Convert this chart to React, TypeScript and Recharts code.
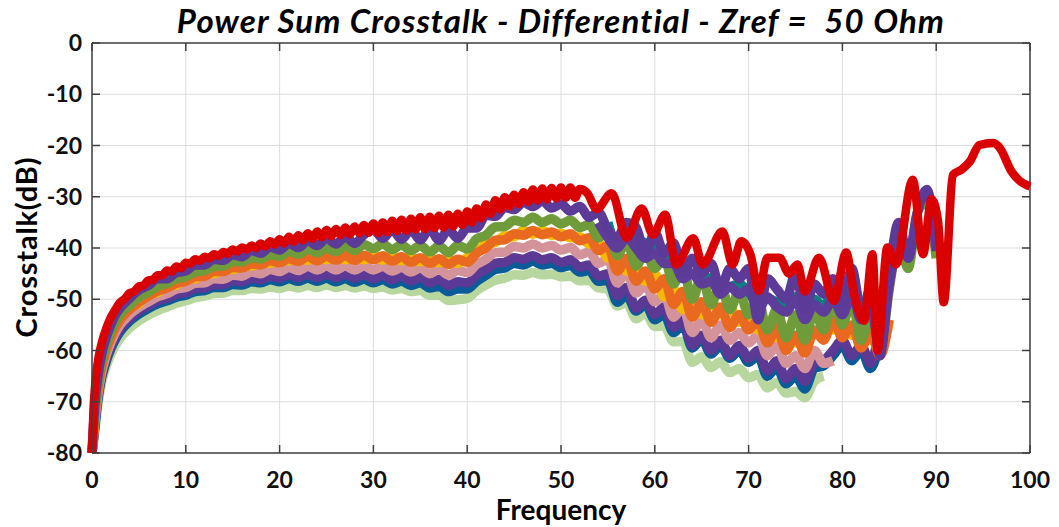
import { CartesianGrid, Line, LineChart, ReferenceLine, XAxis, YAxis } from 'recharts';

// frequency grid shared by the bundle of crosstalk traces
const F_GRID = [
  0, 0.3, 0.6, 1, 1.5, 2, 2.5, 3,
  4, 5, 6, 7, 8, 9,
  10, 11, 12, 13, 14, 15, 16, 17, 18, 19,
  20, 21, 22, 23, 24, 25, 26, 27, 28, 29,
  30, 31, 32, 33, 34, 35, 36, 37, 38, 39,
  40, 41, 42, 43, 44, 45, 46, 47, 48, 49,
  50, 51, 52, 53, 54, 55, 56, 57, 58, 59,
  60, 61, 62, 63, 64, 65, 66, 67, 68, 69,
  70, 71, 72, 73, 74, 75, 76, 77, 78, 79,
  80, 81, 82, 83, 84, 85, 86, 87, 88, 89,
  90,
];

const LIGHT_GREEN = [
  -80, -76, -71, -66.5, -63.2, -60.8, -59, -57.6,
  -55.6, -54.2, -53.1, -52.2, -51.5, -50.8,
  -50.3, -49.7, -49.4, -48.9, -48.8, -48.3, -48.3, -47.9, -48, -47.6,
  -47.9, -47.4, -47.8, -47.3, -47.7, -47.2, -47.7, -47.3, -47.8, -47.4,
  -47.9, -47.6, -48.2, -47.9, -48.5, -48.3, -49.2, -49.2, -50.2, -50.1,
  -49.8, -48.3, -47.2, -46.3, -45.9, -45.2, -45.3, -44.8, -45.2, -45.1,
  -45.6, -45.5, -46.4, -46.3, -47.8, -48, -51.3, -50.7, -53.8, -52.7,
  -55.3, -55.2, -58.3, -58.2, -62.3, -61.2, -63.3, -62.2, -64.3, -63.5,
  -65.3, -64.7, -67.3, -66.2, -68.3, -68, -69.2, -66, -65, null,
  null, null, null, null, null, null, null, null, null, null,
  null,
];

const DARK_BLUE = [
  -80, -75, -70, -65.5, -62.2, -59.7, -57.8, -56.3,
  -54.3, -52.9, -51.8, -50.9, -50.3, -49.6,
  -49.2, -48.5, -48.3, -47.7, -47.7, -47.1, -47.2, -46.6, -46.8, -46.2,
  -46.6, -46, -46.5, -45.9, -46.5, -45.9, -46.6, -46, -46.7, -46.1,
  -46.8, -46.2, -47, -46.5, -47.3, -46.8, -47.8, -47.5, -48.5, -48,
  -48, -46.5, -45.3, -44.2, -43.9, -43, -43.3, -42.6, -43.3, -43,
  -43.8, -43.4, -44.7, -44.4, -46.5, -46.3, -50.6, -49.2, -52.3, -51,
  -54, -53, -56.5, -55, -59.5, -57.8, -60.7, -59, -61.5, -60,
  -62.3, -61, -65, -63.3, -66.5, -65, -67.5, -63.5, -63, -61,
  -59, -62, -60, -63.5, -58, null, null, null, null, null,
  null,
];

const PURPLE_LOW = [
  -80, -74.5, -69.5, -65, -61.7, -59.2, -57.3, -55.8,
  -53.8, -52.3, -51.3, -50.3, -49.8, -49,
  -48.7, -47.9, -47.8, -47.1, -47.1, -46.4, -46.6, -45.9, -46.2, -45.5,
  -45.9, -45.2, -45.8, -45.1, -45.8, -45.1, -45.8, -45.1, -45.9, -45.2,
  -46, -45.3, -46.2, -45.5, -46.4, -45.7, -46.8, -46.1, -47.3, -46.6,
  -46.8, -45.2, -44.2, -43, -42.8, -41.9, -42.2, -41.5, -42.3, -41.9,
  -42.8, -42.3, -43.7, -43.3, -45.5, -45, -49.3, -47.7, -51.8, -50.2,
  -53, -51.5, -55.5, -54, -59, -57, -60, -58, -61, -59,
  -61.5, -60, -64, -62, -65.5, -63.5, -66, -62.5, -62, -60,
  -58, -61, -59, -62.5, -57, -56, null, null, null, null,
  null,
];

const PINK = [
  -80, -74, -69, -64.5, -61, -58.5, -56.5, -55,
  -53, -51.6, -50.5, -49.5, -48.9, -48,
  -47.7, -46.9, -46.8, -46, -46.1, -45.3, -45.5, -44.7, -45, -44.2,
  -44.6, -43.8, -44.4, -43.6, -44.3, -43.5, -44.3, -43.5, -44.3, -43.5,
  -44.3, -43.6, -44.5, -43.8, -44.7, -43.9, -45, -44.2, -45.3, -44.4,
  -44.8, -43.2, -42.2, -40.9, -40.8, -39.7, -40, -39.2, -40, -39.5,
  -40.4, -39.9, -41.3, -40.8, -43, -42.2, -46.8, -44.8, -48.8, -47.2,
  -50.5, -49, -53.5, -51.5, -56.5, -54, -57.5, -55, -58, -56.5,
  -58.5, -57, -61, -59, -62.5, -61, -63.5, -60, -62.5, -62,
  null, null, null, null, null, null, null, null, null, null,
  null,
];

const ORANGE = [
  -80, -73, -68, -63.5, -60, -57.5, -55.5, -54,
  -52, -50.6, -49.4, -48.4, -47.8, -46.9,
  -46.5, -45.6, -45.5, -44.6, -44.6, -43.8, -43.9, -43.1, -43.3, -42.5,
  -42.9, -42.1, -42.6, -41.7, -42.5, -41.6, -42.4, -41.5, -42.4, -41.4,
  -42.3, -41.5, -42.6, -41.7, -42.8, -41.9, -43, -42.1, -43.2, -42.2,
  -42.8, -41, -40, -38.5, -38.4, -37.2, -37.5, -36.6, -37.4, -36.9,
  -37.8, -37.2, -38.6, -38, -40.5, -39.5, -44.5, -42, -46.5, -44.5,
  -48, -46, -51, -48.5, -53.5, -50.5, -54.5, -51.5, -55.5, -53,
  -56, -54, -58.5, -55.5, -60, -57, -60.5, -56, -58, -54,
  -57.5, -55, -59.5, -56.5, -61, -54, null, null, null, null,
  null,
];

const YELLOW = [
  -80, -72.7, -67.7, -63.2, -59.8, -57.2, -55.2, -53.8,
  -51.6, -50.9, -48.9, -48.7, -47.2, -47.2,
  -45.9, -46, -44.9, -45, -44.1, -44.2, -43.4, -43.5, -42.8, -43,
  -42.2, -42.5, -41.9, -42.4, -41.7, -42.3, -41.6, -42.3, -41.6, -42.3,
  -41.5, -42.4, -41.6, -42.5, -41.7, -42.7, -41.9, -42.9, -42.1, -43,
  -41.8, -40.9, -39.2, -38.9, -37.6, -37.8, -36.6, -37.3, -36.6, -37.5,
  -37.1, -38, -37.8, -39.2, -39, -42, -41.5, -44.5, -43.5, -46.5,
  -45, -49.5, -48, -52, -49.5, -53, -50.5, -53, -51.5, -54.5,
  -53, -56, -54.5, -57.5, -56, -58.5, -56, -57, -55, -56,
  -55, -57, -56, -58, -57, -55.3, null, null, null, null,
  null,
];

const GREEN = [
  -80, -72, -67, -62.5, -59, -56.5, -54.5, -53,
  -51.2, -49.6, -48.6, -47.5, -46.9, -46,
  -45.6, -44.7, -44.4, -43.6, -43.5, -42.7, -42.7, -41.9, -42.1, -41.3,
  -41.6, -40.7, -41.2, -40.3, -40.9, -40, -40.7, -39.6, -40.5, -39.3,
  -40.1, -39.2, -40.3, -39.4, -40.5, -39.5, -40.8, -39.6, -40.9, -39.5,
  -40.2, -38.2, -37.5, -35.9, -35.8, -34.6, -35, -34, -35, -34.3,
  -35.3, -34.6, -36, -35.4, -38, -36.5, -41.5, -38.5, -43.5, -41,
  -44, -42, -47, -44, -50, -45.5, -51, -47, -52, -48.5,
  -53, -50, -56, -52, -57.5, -53, -58, -52, -56, -50,
  -55, -50, -58, -52, -60, -48, -38, -44, -33, -31,
  -42,
];

const TEAL = [
  null, null, null, null, null, null, null, null,
  null, null, null, null, null, null,
  null, null, null, null, null, null, null, null, null, null,
  null, null, null, null, null, null, null, null, null, null,
  null, null, null, null, null, null, null, null, null, null,
  null, null, null, null, null, null, null, null, null, null,
  null, null, null, null, null, -35, -39.5, -36.5, -38.5, -39,
  -40, -40.5, -42.5, -44, -45, -45.5, -46, -47, -47.5, -47,
  -48.5, -51, -50, -50.5, -52, -49.5, -53, -50, -51.5, -48.5,
  -51, -47, -53, -48, -59, -46, -38, null, null, null,
  null,
];

const PURPLE_MID = [
  null, null, null, null, null, null, null, null,
  null, null, null, null, null, null,
  null, null, null, null, null, null, null, null, null, null,
  null, null, null, null, null, null, null, null, null, null,
  null, null, null, null, null, null, null, null, null, null,
  null, null, null, null, null, null, null, null, null, null,
  null, null, null, null, -35, -38, -40, -38, -40, -42,
  -41, -43, -43, -46, -45, -47, -46.5, -49, -47.5, -49,
  -48, -52, -49.5, -51.5, -52.5, -50, -54, -51, -52.5, -50,
  -53, -49, -54, -51, -60, -47, -38, null, null, null,
  null,
];

const PURPLE = [
  -80, -70.5, -65.5, -61, -57.5, -55, -53, -51.7,
  -49.8, -48.2, -47.3, -46, -46, -44.8,
  -44.5, -43.3, -43.3, -42.2, -42.4, -41.3, -41.7, -40.5, -41, -39.8,
  -40.4, -39.1, -39.9, -38.6, -39.5, -38.1, -39.2, -37.8, -39.1, -37.4,
  -36.4, -38.1, -36.4, -38.3, -36.5, -38.4, -36.3, -38.5, -36.4, -38.1,
  -36.1, -36.1, -33.6, -33.8, -32.1, -32.5, -31.1, -31.9, -30.8, -32.2,
  -31.4, -32.8, -31.9, -34, -33, -36.5, -38, -35, -36, -41,
  -37, -41, -39, -45, -42, -45, -43, -48, -44, -46,
  -44, -54, -46, -48, -50, -45, -52, -47, -49, -46,
  -51, -44, -52, -49, -61, -45, -35, -42, -33, -28.6,
  -40.6,
];

// the top trace, read point by point (frequency, dB)
const RED = [
  [0, -80], [0.15, -72], [0.3, -67.5], [0.6, -62.5], [1, -58.8], [1.5, -55.8],
  [2, -53.6], [2.5, -52], [3, -50.6], [3.5, -49.9], [4, -48.8], [4.5, -48.5],
  [5, -47.5], [5.5, -47.3], [6, -46.3], [6.5, -46.2], [7, -45.3], [7.5, -45.3],
  [8, -44.4], [8.5, -44.6], [9, -43.6], [9.5, -43.9], [10, -42.9], [10.5, -43],
  [11, -42.2], [11.5, -42.5], [12, -41.7], [12.5, -42], [13, -41.2], [13.5, -41.5],
  [14, -40.8], [14.5, -41.1], [15, -40.3], [15.5, -40.7], [16, -39.9], [16.5, -40.3],
  [17, -39.5], [17.5, -40], [18, -39.1], [18.5, -39.7], [19, -38.7], [19.5, -39.3],
  [20, -38.3], [20.5, -39.1], [21, -37.8], [21.5, -38.8], [22, -37.5], [22.5, -38.5],
  [23, -37.1], [23.5, -38.2], [24, -36.8], [24.5, -37.9], [25, -36.5], [25.5, -37.7],
  [26, -36.3], [26.5, -37.5], [27, -36], [27.5, -37.3], [28, -35.8], [28.5, -37.1],
  [29, -35.5], [29.5, -37], [30, -35.2], [30.5, -37.1], [31, -35], [31.5, -36.9],
  [32, -34.7], [32.5, -36.7], [33, -34.5], [33.5, -36.6], [34, -34.3], [34.5, -36.4],
  [35, -34], [35.5, -36.3], [36, -33.9], [36.5, -36.1], [37, -33.7], [37.5, -36],
  [38, -33.5], [38.5, -35.8], [39, -33.3], [39.5, -35.5], [40, -32.9], [40.5, -35],
  [41, -32.3], [41.5, -34.2], [42, -31.5], [42.5, -33.3], [43, -30.7], [43.5, -32.5],
  [44, -30.1], [44.5, -31.9], [45, -29.6], [45.5, -31.4], [46, -29.1], [46.5, -31],
  [47, -28.6], [47.5, -30.7], [48, -28.4], [48.5, -30.5], [49, -28.3], [49.5, -30.3],
  [50, -28.2], [50.5, -30.2], [51, -28.2], [51.5, -30.2], [52, -28.5], [52.8, -29.3],
  [53.8, -32.4], [55.4, -29.3], [57, -38], [58.6, -32.3], [59.8, -37.4], [61.1, -33.5],
  [62.3, -43.2], [64.1, -38.1], [65.1, -43.2], [67.2, -36.8], [68.3, -43.2], [69.2, -38.7],
  [70.2, -41.3], [71.1, -48.4], [72, -41.9], [73.3, -41.9], [74.3, -45], [75.2, -43.2],
  [76, -48.5], [77.5, -41.9], [79.1, -50.3], [80.4, -40.9], [81.25, -49], [82.3, -54.2],
  [83.2, -41.2], [83.75, -60], [84.8, -39.9], [85.7, -43.2], [87.5, -26.7], [88.6, -41.2],
  [89.5, -30.5], [90.2, -34.8], [90.8, -50.6], [91.8, -25.7], [92.7, -24.7], [93.6, -23.1],
  [94.6, -19.9], [96.1, -19.5], [96.8, -20.5], [98, -25], [98.9, -26.9], [100, -28],
];

const X_TICKS = [0, 10, 20, 30, 40, 50, 60, 70, 80, 90, 100];
const Y_TICKS = [-80, -70, -60, -50, -40, -30, -20, -10, 0];

// drawn bottom band first so the red trace ends on top
const SERIES = [
  { key: 'lightGreen', color: '#B7D79E', values: LIGHT_GREEN },
  { key: 'darkBlue', color: '#0B5B98', values: DARK_BLUE },
  { key: 'purpleLow', color: '#5B3995', values: PURPLE_LOW },
  { key: 'pink', color: '#D4939A', values: PINK },
  { key: 'yellow', color: '#F3BA00', values: YELLOW },
  { key: 'orange', color: '#E8691F', values: ORANGE },
  { key: 'green', color: '#6F9B3B', values: GREEN },
  { key: 'teal', color: '#0A8080', values: TEAL },
  { key: 'purpleMid', color: '#5E3C9A', values: PURPLE_MID },
  { key: 'purple', color: '#5C3B98', values: PURPLE },
];

const toPoints = (values: (number | null)[]) =>
  F_GRID.map((f, i) => ({ f, db: values[i] })).filter((p) => p.db !== null);

const redPoints = RED.map(([f, db]) => ({ f, db }));

const FONT = 'Lato, "Open Sans", sans-serif';
const AXIS = '#404040';
const PLOT_W = 938;
const PLOT_H = 410;

function XTick({ x, y, payload }: any) {
  return (
    <g>
      <line x1={x} x2={x} y1={y} y2={y - 8} stroke={AXIS} strokeWidth={1.5} />
      <line x1={x} x2={x} y1={y - PLOT_H} y2={y - PLOT_H + 8} stroke={AXIS} strokeWidth={1.5} />
      <text x={x} y={y + 35} textAnchor="middle" fontFamily={FONT} fontWeight={700} fontSize={23} fill="#111">
        {payload.value}
      </text>
    </g>
  );
}

function YTick({ x, y, payload }: any) {
  return (
    <g>
      <line x1={x} x2={x + 8} y1={y} y2={y} stroke={AXIS} strokeWidth={1.5} />
      <line x1={x + PLOT_W} x2={x + PLOT_W - 8} y1={y} y2={y} stroke={AXIS} strokeWidth={1.5} />
      <text x={x - 10} y={y + 8} textAnchor="end" fontFamily={FONT} fontWeight={700} fontSize={23} fill="#111">
        {payload.value}
      </text>
    </g>
  );
}

export default function App() {
  return (
    <div style={{ position: 'absolute', left: 0, top: 0, width: 1059, height: 527, background: '#fff' }}>
      <LineChart width={1059} height={527} margin={{ top: 43, right: 29, bottom: 0, left: 0 }}>
        <CartesianGrid stroke="#dddddd" strokeWidth={1} />
        <XAxis
          type="number"
          dataKey="f"
          domain={[0, 100]}
          ticks={X_TICKS}
          interval={0}
          height={74}
          tickSize={0}
          tickMargin={0}
          tickLine={false}
          axisLine={{ stroke: AXIS, strokeWidth: 1.5 }}
          tick={<XTick />}
        />
        <YAxis
          type="number"
          domain={[-80, 0]}
          ticks={Y_TICKS}
          interval={0}
          width={92}
          tickSize={0}
          tickMargin={0}
          tickLine={false}
          axisLine={{ stroke: AXIS, strokeWidth: 1.5 }}
          tick={<YTick />}
        />
        <ReferenceLine y={0} stroke={AXIS} strokeWidth={1.5} />
        <ReferenceLine x={100} stroke={AXIS} strokeWidth={1.5} />
        {SERIES.map(({ key, color, values }) => (
          <Line
            key={key}
            data={toPoints(values)}
            dataKey="db"
            type="monotone"
            stroke={color}
            strokeWidth={9.5}
            strokeLinejoin="round"
            dot={false}
            isAnimationActive={false}
          />
        ))}
        <Line
          data={redPoints}
          dataKey="db"
          type="monotone"
          stroke="#DA0000"
          strokeWidth={8.5}
          strokeLinejoin="round"
          dot={false}
          isAnimationActive={false}
        />
      </LineChart>
      <svg width={1059} height={527} style={{ position: 'absolute', left: 0, top: 0, pointerEvents: 'none' }}>
        <text
          x={561}
          y={33}
          textAnchor="middle"
          fontFamily={FONT}
          fontWeight={700}
          fontStyle="italic"
          fontSize={33}
          letterSpacing={1.1}
          fill="#000"
          xmlSpace="preserve"
          style={{ whiteSpace: 'pre' }}
        >
          {'Power Sum Crosstalk - Differential - Zref =  50 Ohm'}
        </text>
        <text x={561} y={520} textAnchor="middle" fontFamily={FONT} fontWeight={700} fontSize={28} fill="#000">
          Frequency
        </text>
        <text
          x={0}
          y={0}
          transform="translate(37 247) rotate(-90)"
          textAnchor="middle"
          fontFamily={FONT}
          fontWeight={700}
          fontSize={29}
          letterSpacing={0.8}
          fill="#000"
        >
          Crosstalk(dB)
        </text>
      </svg>
    </div>
  );
}
